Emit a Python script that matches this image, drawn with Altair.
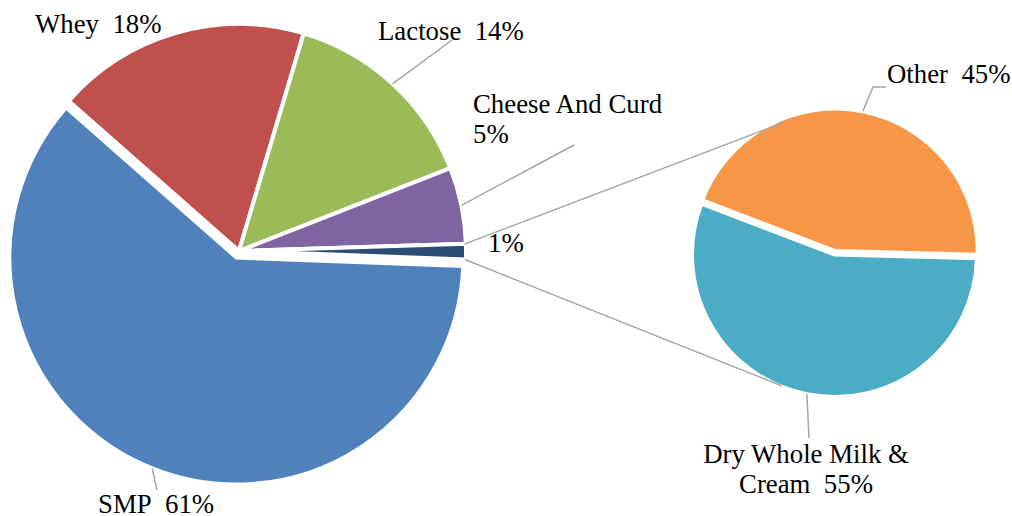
import math
import altair as alt
import pandas as pd

NB = "\u00a0 "  # wide gap between name and percent, as in the reference

# ---------------- data ----------------
main_cats = ["Whey", "Lactose", "Cheese And Curd", "Other", "SMP"]
main_vals = [18.1, 14.45, 5.45, 1.1, 60.9]
main_labels = ["Whey" + NB + "18%", "Lactose" + NB + "14%", "Cheese And Curd\n5%", "1%", "SMP" + NB + "61%"]
main_colors = ["#C0504D", "#9BBB59", "#8064A2", "#2C4D75", "#4F81BD"]

sub_cats = ["Other", "Dry Whole Milk & Cream"]
sub_vals = [44.6, 55.4]
sub_labels = ["Other" + NB + "45%", "Dry Whole Milk &\nCream" + NB + "55%"]
sub_colors = ["#F79646", "#4BACC6"]

# ---------------- layout ----------------
W, H = 1012, 516
MAIN_C, MAIN_R, MAIN_START = (239.0, 251.0), 225.0, 311.4
SUB_C, SUB_R, SUB_START = (834.5, 254.5), 140.5, 290.9
MAIN_EXPLODE = {"SMP": 7.0}
SUB_EXPLODE = {"Other": 3.5}

# label anchors (x, baseline y, align) and leader end points
MAIN_LABEL_POS = [(35, 33, "left"), (378, 40, "left"), (473, 113, "left"),
                  (488, 252, "left"), (98, 513, "left")]
SUB_LABEL_POS = [(887, 83, "left"), (806, 463, "center")]
MAIN_LEADER_END = [None, [(452, 40)], [(574, 145)], None, [(157, 490)]]
SUB_LEADER_END = [[(873, 87), (886, 87)], [(809, 438)]]
# where connector lines touch the second pie (degrees)
CONNECT_ANGLES = (338.5, 201.9)


def pt(c, r, deg):
    a = math.radians(deg)
    return c[0] + r * math.sin(a), c[1] - r * math.cos(a)


def build(cats, vals, colors, center, start, explode, pie):
    rows = []
    cum = start
    for cat, v, col in zip(cats, vals, colors):
        a0, a1 = cum, cum + v * 3.6
        mid = (a0 + a1) / 2
        e = explode.get(cat, 0.0)
        cx, cy = pt(center, e, mid)
        rows.append(dict(pie=pie, cat=cat, a0=a0, a1=a1, mid=mid, cx=cx, cy=cy, color=col))
        cum = a1
    return rows


main_rows = build(main_cats, main_vals, main_colors, MAIN_C, MAIN_START, MAIN_EXPLODE, "main")
sub_rows = build(sub_cats, sub_vals, sub_colors, SUB_C, SUB_START, SUB_EXPLODE, "sub")
df_main = pd.DataFrame(main_rows)
df_sub = pd.DataFrame(sub_rows)

xs = alt.Scale(domain=[0, W], range=[0, W], nice=False, zero=False)
ys = alt.Scale(domain=[0, H], range=[0, H], nice=False, zero=False)
ts = alt.Scale(domain=[0, 360], range=[0, 2 * math.pi], nice=False, zero=False)


def arcs(df, r):
    return alt.Chart(df).mark_arc(outerRadius=r + 2, stroke="white", strokeWidth=4).encode(
        x=alt.X("cx:Q", scale=xs, axis=None),
        y=alt.Y("cy:Q", scale=ys, axis=None),
        theta=alt.Theta("a0:Q", scale=ts, stack=None),
        theta2="a1:Q",
        color=alt.Color("color:N", scale=None),
    )


# connector lines from the small slice to the second pie
small = main_rows[3]
p_up = pt(MAIN_C, MAIN_R + 1, small["a0"])
p_dn = pt(MAIN_C, MAIN_R + 1, small["a1"])
q_up = pt(SUB_C, SUB_R + 1, CONNECT_ANGLES[0])
q_dn = pt(SUB_C, SUB_R + 1, CONNECT_ANGLES[1])
df_conn = pd.DataFrame([
    dict(x=p_up[0], y=p_up[1], x2=q_up[0], y2=q_up[1]),
    dict(x=p_dn[0], y=p_dn[1], x2=q_dn[0], y2=q_dn[1]),
])
conn = alt.Chart(df_conn).mark_rule(color="#A6A6A6", strokeWidth=1.5).encode(
    x=alt.X("x:Q", scale=xs, axis=None), y=alt.Y("y:Q", scale=ys, axis=None),
    x2="x2:Q", y2="y2:Q")

# leader lines
lead = []
for rows, ends, rad in ((main_rows, MAIN_LEADER_END, MAIN_R), (sub_rows, SUB_LEADER_END, SUB_R)):
    for row, e in zip(rows, ends):
        if not e:
            continue
        sx, sy = pt((row["cx"], row["cy"]), rad + 2, row["mid"])
        pts = [(sx, sy)] + e
        for k, (x, y) in enumerate(pts):
            lead.append(dict(id=row["pie"] + row["cat"], k=k, x=x, y=y))
df_lead = pd.DataFrame(lead)
leaders = alt.Chart(df_lead).mark_line(color="#A6A6A6", strokeWidth=1.5).encode(
    x=alt.X("x:Q", scale=xs, axis=None), y=alt.Y("y:Q", scale=ys, axis=None),
    detail="id:N", order="k:Q")

# labels
lab = []
for labels, pos in ((main_labels, MAIN_LABEL_POS), (sub_labels, SUB_LABEL_POS)):
    for t, (x, y, al) in zip(labels, pos):
        lab.append(dict(text=t, x=x, y=y, align=al))
df_lab = pd.DataFrame(lab)


def texts(align):
    return alt.Chart(df_lab[df_lab["align"] == align]).mark_text(
        font="Liberation Serif", fontSize=26.8, lineBreak="\n", lineHeight=30,
        align=align, baseline="alphabetic", color="black").encode(
        x=alt.X("x:Q", scale=xs, axis=None), y=alt.Y("y:Q", scale=ys, axis=None),
        text="text:N")


chart = alt.layer(
    arcs(df_main, MAIN_R), arcs(df_sub, SUB_R), conn, leaders, texts("left"), texts("center")
).properties(
    width=W, height=H, autosize=alt.AutoSizeParams(type="none"), padding=0, background="white"
).configure_view(stroke=None)

chart.save("out.html", embed_options={"renderer": "svg", "actions": False})
